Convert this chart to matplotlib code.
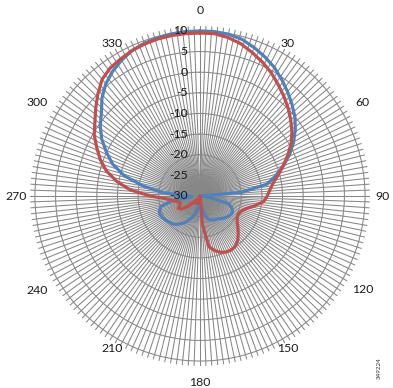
import numpy as np
import matplotlib
matplotlib.use("Agg")
import matplotlib.pyplot as plt

# ---- data ----
angles_deg = [0, 5, 10, 15, 20, 25, 30, 35, 40, 45, 50, 55, 60, 65, 70, 75, 80, 85, 90,
              95, 100, 105, 110, 115, 120, 125, 130, 135, 140, 145, 150, 155, 160, 165, 170, 175, 180,
              185, 190, 195, 200, 205, 210, 215, 220, 225, 230, 235, 240, 245, 250, 255, 260, 265, 270,
              275, 280, 285, 290, 295, 300, 305, 310, 315, 320, 325, 330, 335, 340, 345, 350, 355, 360]

blue_db = [10.0, 10.0, 9.8, 9.3, 8.3, 7.2, 6.0, 4.5, 3.0, 1.5, 0.0, -1.8, -3.8, -6.0, -8.5, -11.0, -13.5, -20.0, -30.0,
           -29.0, -27.0, -23.0, -21.8, -21.3, -21.2, -21.5, -21.9, -22.3, -22.8, -23.1, -23.3, -23.6, -24.0, -25.0, -26.5, -28.5, -30.0,
           -29.0, -27.0, -25.5, -24.5, -23.5, -22.5, -21.8, -21.0, -20.5, -20.2, -19.8, -19.5, -19.3, -19.5, -20.2, -23.0, -28.0, -27.0,
           -21.0, -16.0, -11.0, -7.5, -5.0, -2.5, -0.5, 1.2, 3.6, 5.5, 6.9, 8.0, 8.9, 9.4, 9.7, 9.9, 10.0, 10.0]

red_db = [9.5, 9.5, 9.0, 8.2, 7.0, 5.8, 4.5, 3.0, 1.6, 0.2, -1.3, -2.8, -4.5, -6.5, -8.5, -10.4, -12.0, -13.0, -13.7,
          -14.5, -16.5, -18.3, -19.3, -19.7, -19.6, -19.0, -18.0, -16.9, -15.8, -15.1, -14.9, -15.0, -15.5, -16.3, -17.5, -23.0, -30.0,
          -29.5, -29.0, -29.0, -28.5, -28.0, -28.0, -28.5, -29.0, -28.0, -26.0, -24.5, -24.0, -24.5, -25.0, -24.5, -23.5, -22.0, -18.0,
          -13.0, -9.5, -6.5, -4.3, -2.4, -0.4, 1.1, 3.0, 5.0, 6.9, 7.9, 8.4, 8.9, 9.2, 9.4, 9.5, 9.5, 9.5]

radial_ticks = [-30, -25, -20, -15, -10, -5, 0, 5, 10]
angle_labels = [0, 30, 60, 90, 120, 150, 180, 210, 240, 270, 300, 330]

blue_color = "#4F81BD"
red_color = "#C0504D"
grid_color = "#878787"

plt.rcParams['font.family'] = ['Lato', 'DejaVu Sans']

fig = plt.figure(figsize=(3.93, 3.88), dpi=100)
# centre at (200,196) px from top-left, axes radius 170 px
R = 170
cx, cy = 200, 196
W, H = 393, 388
ax = fig.add_axes([(cx - R) / W, (H - cy - R) / H, 2 * R / W, 2 * R / H], projection='polar')
ax.set_theta_zero_location('N')
ax.set_theta_direction(-1)
rmin, rtop = -30, 10
rmax = rtop + 1.2
ax.set_ylim(rmin, rmax)
ax.spines['polar'].set_visible(False)
ax.patch.set_alpha(0)

# spokes every 2 degrees
spokes = np.arange(0, 360, 2.0)
ax.set_xticks(np.deg2rad(spokes))
ax.set_xticklabels([])
ax.set_yticks(radial_ticks[1:])
ax.set_yticklabels([])
ax.grid(True, color=grid_color, linewidth=0.75)
ax.tick_params(axis='both', length=0)

th = np.deg2rad(angles_deg)
ax.plot(th, blue_db, color=blue_color, linewidth=2.3, solid_capstyle='round', zorder=3)
ax.plot(th, red_db, color=red_color, linewidth=2.3, solid_capstyle='round', zorder=4)

# angle labels: Excel places the text box next to the spoke end
label_r_px = {0: 186, 30: 176, 60: 188, 90: 182, 120: 188, 150: 176,
              180: 186, 210: 176, 240: 188, 270: 184, 300: 188, 330: 176}
for a in angle_labels:
    rp = label_r_px[a]
    x = cx + rp * np.sin(np.deg2rad(a))
    y = cy - rp * np.cos(np.deg2rad(a))
    fig.text(x / W, 1 - y / H, str(a), ha='center', va='center', fontsize=8.8,
             color='#1a1a1a')

# radial labels along the 0 degree spoke
for r in radial_ticks:
    ax.annotate(str(r), xy=(0, r), xytext=(-9, 0), textcoords='offset points',
                ha='right', va='center', fontsize=8.8, color='#1a1a1a', zorder=5,
                annotation_clip=False)

fig.text(379 / W, 1 - 368 / H, "349224", rotation=90, fontsize=4.5, color='#333333',
         ha='center', va='center')

fig.savefig("out.png", dpi=100)
